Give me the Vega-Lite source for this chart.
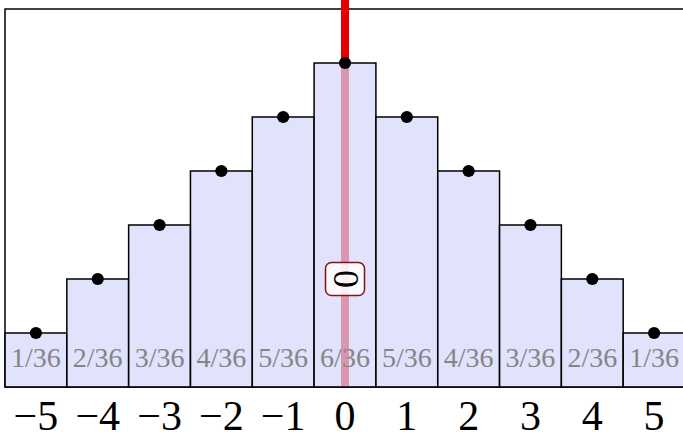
{
  "$schema": "https://vega.github.io/schema/vega-lite/v6.json",
  "width": 680,
  "height": 378,
  "autosize": {"type": "none"},
  "padding": {"left": 5, "top": 9, "right": 0, "bottom": 45},
  "background": "white",
  "config": {"view": {"stroke": "black", "strokeWidth": 1.5}},
  "data": {
    "values": [
      {"d": -5, "n": 1, "label": "1/36"},
      {"d": -4, "n": 2, "label": "2/36"},
      {"d": -3, "n": 3, "label": "3/36"},
      {"d": -2, "n": 4, "label": "4/36"},
      {"d": -1, "n": 5, "label": "5/36"},
      {"d": 0, "n": 6, "label": "6/36"},
      {"d": 1, "n": 5, "label": "5/36"},
      {"d": 2, "n": 4, "label": "4/36"},
      {"d": 3, "n": 3, "label": "3/36"},
      {"d": 4, "n": 2, "label": "2/36"},
      {"d": 5, "n": 1, "label": "1/36"}
    ]
  },
  "encoding": {
    "x": {
      "field": "d",
      "type": "ordinal",
      "sort": null,
      "scale": {"type": "band", "domain": [-5, -4, -3, -2, -1, 0, 1, 2, 3, 4, 5], "paddingInner": 0, "paddingOuter": 0},
      "axis": {
        "title": null,
        "labelAngle": 0,
        "ticks": false,
        "tickSize": 0,
        "domain": false,
        "labelFont": "Liberation Serif",
        "labelFontSize": 42,
        "labelColor": "black",
        "labelBaseline": "alphabetic",
        "labelPadding": 42,
        "labelExpr": "replace(datum.label, '-', '\u2212')"
      }
    }
  },
  "layer": [
    {
      "mark": {"type": "rule", "color": "#e60000", "strokeWidth": 8, "strokeCap": "butt"},
      "transform": [{"filter": "datum.d == 0"}],
      "encoding": {
        "y": {"datum": 0, "type": "quantitative", "scale": {"domain": [0, 7]}, "axis": null},
        "y2": {"datum": 7.2}
      }
    },
    {
      "mark": {"type": "bar", "fill": "#d4d6fb", "fillOpacity": 0.7, "stroke": "black", "strokeWidth": 1.5},
      "encoding": {
        "y": {"field": "n", "type": "quantitative", "scale": {"domain": [0, 7]}, "axis": null}
      }
    },
    {
      "mark": {"type": "text", "font": "Liberation Serif", "fontSize": 28, "color": "#858585", "baseline": "alphabetic", "dy": -20},
      "encoding": {
        "y": {"datum": 0, "type": "quantitative", "scale": {"domain": [0, 7]}, "axis": null},
        "text": {"field": "label"}
      }
    },
    {
      "mark": {"type": "point", "filled": true, "color": "black", "size": 150, "opacity": 1},
      "encoding": {
        "y": {"field": "n", "type": "quantitative", "scale": {"domain": [0, 7]}, "axis": null}
      }
    },
    {
      "transform": [{"filter": "datum.d == 0"}],
      "mark": {"type": "rect", "width": 39, "height": 33, "cornerRadius": 6, "fill": "white", "fillOpacity": 0.85, "stroke": "#8b1010", "strokeWidth": 1.5},
      "encoding": {
        "y": {"datum": 2, "type": "quantitative", "scale": {"domain": [0, 7]}, "axis": null}
      }
    },
    {
      "transform": [{"filter": "datum.d == 0"}],
      "mark": {"type": "text", "font": "Liberation Serif", "fontSize": 36, "angle": 90, "align": "center", "baseline": "middle", "color": "black"},
      "encoding": {
        "y": {"datum": 2, "type": "quantitative", "scale": {"domain": [0, 7]}, "axis": null},
        "text": {"value": "0"}
      }
    }
  ]
}
